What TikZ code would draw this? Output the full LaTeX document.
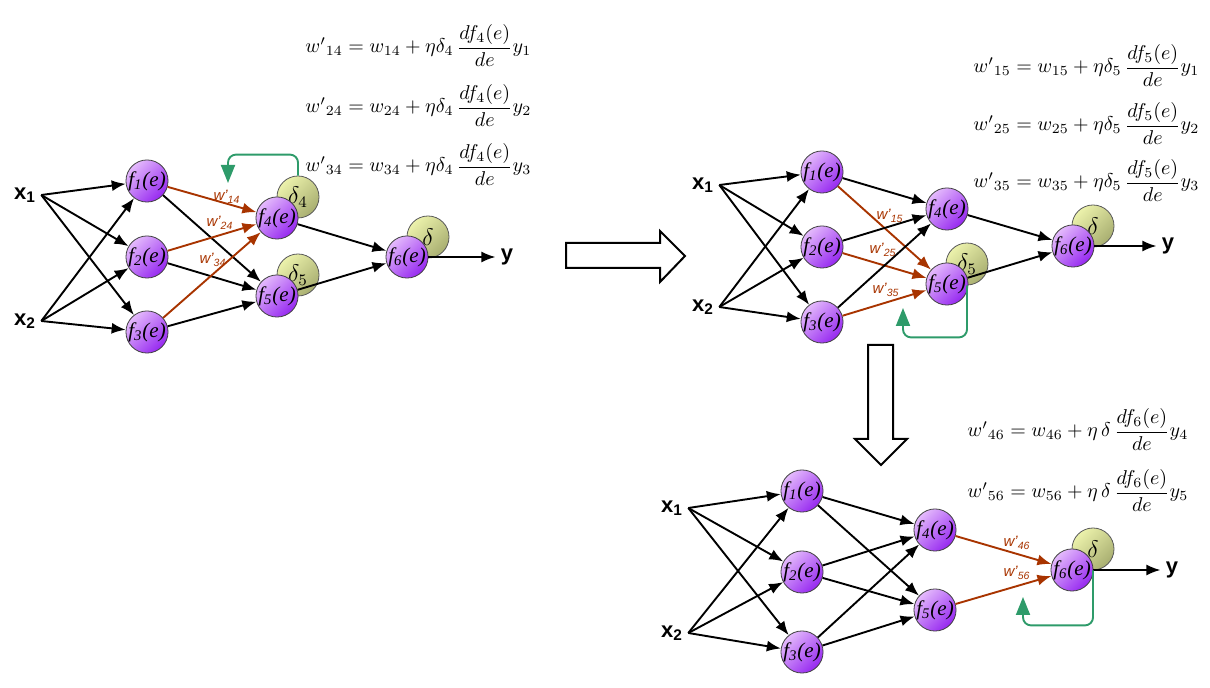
\documentclass[tikz,border=0pt]{standalone}
\usepackage{amsmath}
\usepackage{fontspec}
\setmainfont{Liberation Serif}
\setsansfont{Liberation Sans}
\usetikzlibrary{arrows.meta}
\definecolor{wred}{RGB}{168,52,0}
\definecolor{fbgreen}{RGB}{46,155,106}
\definecolor{fhi}{RGB}{228,186,252}
\definecolor{flo}{RGB}{150,40,240}
\definecolor{dhi}{RGB}{236,242,172}
\definecolor{dlo}{RGB}{168,174,112}
\tikzset{
  neuron_/.style  = {shape=circle, draw=black!75, minimum size=21pt, inner sep=0pt,
                     top color=fhi, bottom color=flo, shading angle=45,
                     font=\itshape\fontsize{10.5}{11}\selectfont},
  delta_/.style   = {shape=circle, draw=black!65, minimum size=21pt, inner sep=0pt,
                     top color=dhi, bottom color=dlo, shading angle=45,
                     font=\fontsize{11.5}{12}\selectfont},
  input_/.style   = {font=\sffamily\bfseries\fontsize{11}{12}\selectfont, inner sep=2.5pt},
  wlabel_/.style  = {font=\sffamily\itshape\fontsize{7.5}{8}\selectfont, text=wred, inner sep=0pt},
  formula_/.style = {anchor=base west, inner sep=0pt, font=\fontsize{9.6}{12}\selectfont},
  conn_/.style    = {draw, line width=0.95pt, -{Latex[length=7pt,width=5.5pt]}},
  upd_/.style     = {conn_, draw=wred},
  back_/.style    = {draw=fbgreen, line width=0.95pt, rounded corners=4pt,
                     -{Triangle[length=9pt,width=7pt]}},
  bigarrow_/.style = {draw, line width=1pt, fill=white}
}

\begin{document}
\begin{tikzpicture}[x=0.5pt, y=-0.5pt]
\useasboundingbox (0,0) rectangle (1210,688);

% first step: delta_4 back to layer one
\node [delta_] (p1d4) at (298,197) {$\delta_4$};
\node [delta_] (p1d5) at (298,275) {$\delta_5$};
\node [delta_] (p1d)  at (428,237) {$\delta$};
\node [neuron_] (p1f1) at (147,181) {f\textsubscript{1}(e)};
\node [neuron_] (p1f2) at (147,257) {f\textsubscript{2}(e)};
\node [neuron_] (p1f3) at (147,332) {f\textsubscript{3}(e)};
\node [neuron_] (p1f4) at (277,218) {f\textsubscript{4}(e)};
\node [neuron_] (p1f5) at (277,296) {f\textsubscript{5}(e)};
\node [neuron_] (p1f6) at (407,257) {f\textsubscript{6}(e)};
\node [input_] (p1x1) at (25,195) {x\textsubscript{1}};
\node [input_] (p1x2) at (25,321) {x\textsubscript{2}};
\node [input_] (p1y)  at (507,257) {y};
\foreach \i in {x1,x2}
  \foreach \j in {f1,f2,f3}
    \draw [conn_] (p1\i.east) -- (p1\j);
\foreach \j in {f1,f2,f3} {
  \draw [upd_]  (p1\j) -- (p1f4);
  \draw [conn_] (p1\j) -- (p1f5);
}
\draw [conn_] (p1f4) -- (p1f6);
\draw [conn_] (p1f5) -- (p1f6);
\draw [conn_] (p1f6) -- (p1y);
\node [wlabel_] (p1w14) at (227,197) {w'\textsubscript{14}};
\node [wlabel_] (p1w24) at (220,223) {w'\textsubscript{24}};
\node [wlabel_] (p1w34) at (213,260) {w'\textsubscript{34}};
\coordinate (p1g) at (228,183);
\draw [back_] (p1d4.north) -- ++(0,-21) -| (p1g);
\node [formula_] (p1e1) at (305,53)  {$w'{}_{14} = w_{14} + \eta\delta_4\,\dfrac{df_4(e)}{de}y_1$};
\node [formula_] (p1e2) at (305,113) {$w'{}_{24} = w_{24} + \eta\delta_4\,\dfrac{df_4(e)}{de}y_2$};
\node [formula_] (p1e3) at (305,172) {$w'{}_{34} = w_{34} + \eta\delta_4\,\dfrac{df_4(e)}{de}y_3$};

% big arrows
\draw [bigarrow_] (566,243) -- (660,243) -- (660,231) -- (685,256)
  -- (660,282) -- (660,268) -- (566,268) -- cycle;
\draw [bigarrow_] (868,345) -- (893,345) -- (893,439) -- (907,439)
  -- (881,465) -- (855,439) -- (868,439) -- cycle;

% second step: delta_5 back to layer one
\node [delta_] (p2d5) at (967,264) {$\delta_5$};
\node [delta_] (p2d)  at (1093,226) {$\delta$};
\node [neuron_] (p2f1) at (822,172) {f\textsubscript{1}(e)};
\node [neuron_] (p2f2) at (822,247) {f\textsubscript{2}(e)};
\node [neuron_] (p2f3) at (822,322) {f\textsubscript{3}(e)};
\node [neuron_] (p2f4) at (947,209) {f\textsubscript{4}(e)};
\node [neuron_] (p2f5) at (947,284) {f\textsubscript{5}(e)};
\node [neuron_] (p2f6) at (1073,246) {f\textsubscript{6}(e)};
\node [input_] (p2x1) at (703,185) {x\textsubscript{1}};
\node [input_] (p2x2) at (703,307) {x\textsubscript{2}};
\node [input_] (p2y)  at (1168,246) {y};
\foreach \i in {x1,x2}
  \foreach \j in {f1,f2,f3}
    \draw [conn_] (p2\i.east) -- (p2\j);
\foreach \j in {f1,f2,f3} {
  \draw [conn_] (p2\j) -- (p2f4);
  \draw [upd_]  (p2\j) -- (p2f5);
}
\draw [conn_] (p2f4) -- (p2f6);
\draw [conn_] (p2f5) -- (p2f6);
\draw [conn_] (p2f6) -- (p2y);
\node [wlabel_] (p2w15) at (890,216) {w'\textsubscript{15}};
\node [wlabel_] (p2w25) at (883,250) {w'\textsubscript{25}};
\node [wlabel_] (p2w35) at (886,290) {w'\textsubscript{35}};
\coordinate (p2g) at (903,308);
\draw [back_] (p2d5.south) -- ++(0,52) -| (p2g);
\node [formula_] (p2e1) at (973,73)  {$w'{}_{15} = w_{15} + \eta\delta_5\,\dfrac{df_5(e)}{de}y_1$};
\node [formula_] (p2e2) at (973,131) {$w'{}_{25} = w_{25} + \eta\delta_5\,\dfrac{df_5(e)}{de}y_2$};
\node [formula_] (p2e3) at (973,188) {$w'{}_{35} = w_{35} + \eta\delta_5\,\dfrac{df_5(e)}{de}y_3$};

% third step: delta to layer two
\node [delta_] (p3d)  at (1093,549) {$\delta$};
\node [neuron_] (p3f1) at (802,491) {f\textsubscript{1}(e)};
\node [neuron_] (p3f2) at (802,572) {f\textsubscript{2}(e)};
\node [neuron_] (p3f3) at (802,652) {f\textsubscript{3}(e)};
\node [neuron_] (p3f4) at (935,530) {f\textsubscript{4}(e)};
\node [neuron_] (p3f5) at (935,610) {f\textsubscript{5}(e)};
\node [neuron_] (p3f6) at (1072,570) {f\textsubscript{6}(e)};
\node [input_] (p3x1) at (672,508) {x\textsubscript{1}};
\node [input_] (p3x2) at (672,633) {x\textsubscript{2}};
\node [input_] (p3y)  at (1172,570) {y};
\foreach \i in {x1,x2}
  \foreach \j in {f1,f2,f3}
    \draw [conn_] (p3\i.east) -- (p3\j);
\foreach \j in {f1,f2,f3} {
  \draw [conn_] (p3\j) -- (p3f4);
  \draw [conn_] (p3\j) -- (p3f5);
}
\draw [upd_]  (p3f4) -- (p3f6);
\draw [upd_]  (p3f5) -- (p3f6);
\draw [conn_] (p3f6) -- (p3y);
\node [wlabel_] (p3w46) at (1017,543) {w'\textsubscript{46}};
\node [wlabel_] (p3w56) at (1017,573) {w'\textsubscript{56}};
\coordinate (p3g) at (1023,597);
\draw [back_] (p3d.south) -- ++(0,55) -| (p3g);
\node [formula_] (p3e1) at (967,437) {$w'{}_{46} = w_{46} + \eta\,\delta\,\dfrac{df_6(e)}{de}y_4$};
\node [formula_] (p3e2) at (967,498) {$w'{}_{56} = w_{56} + \eta\,\delta\,\dfrac{df_6(e)}{de}y_5$};
\end{tikzpicture}
\end{document}
